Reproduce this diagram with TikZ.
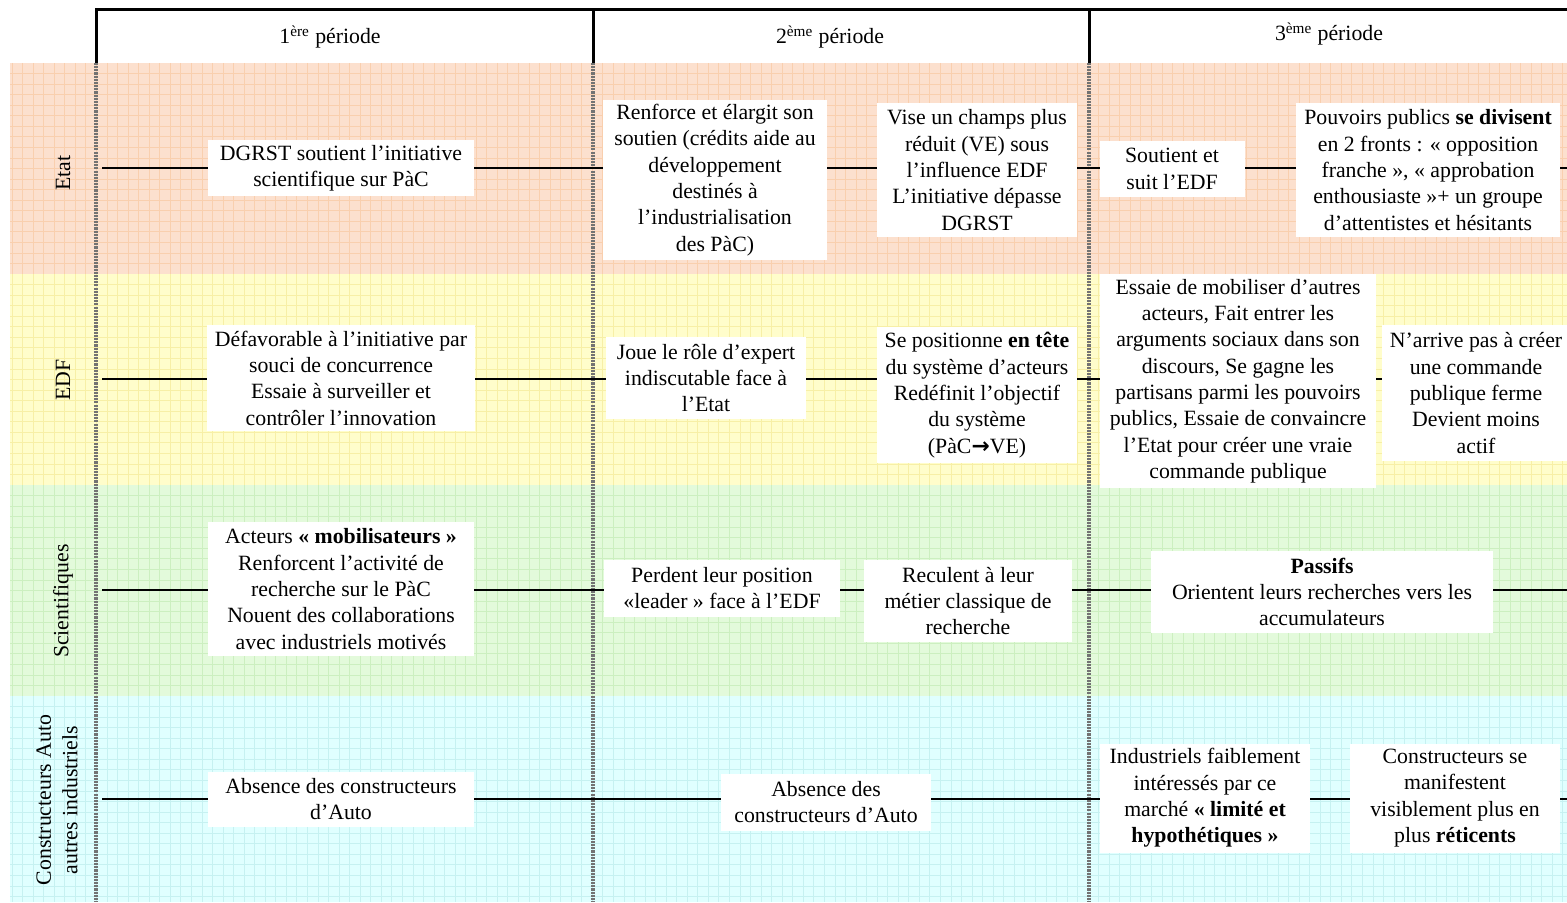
\documentclass[tikz,border=0pt]{standalone}
\usepackage{fontspec}
\setmainfont{Liberation Serif}
\newfontfamily\arrowfont{DejaVu Sans}
\usepackage{tikz}
\usetikzlibrary{calc}
\definecolor{etatbg}{RGB}{252,224,206}
\definecolor{etatgrid}{RGB}{249,207,174}
\definecolor{edfbg}{RGB}{255,253,203}
\definecolor{edfgrid}{RGB}{247,239,166}
\definecolor{scibg}{RGB}{227,250,219}
\definecolor{scigrid}{RGB}{204,239,192}
\definecolor{autobg}{RGB}{224,255,255}
\definecolor{autogrid}{RGB}{198,241,241}
\tikzstyle{actor} = [rectangle, fill=white, align=center, inner xsep=0.16cm, inner ysep=0.05cm, font=\fontsize{12.4}{15}\selectfont]
\tikzstyle{rowlabel} = [rotate=90, align=center, font=\fontsize{12.4}{15}\selectfont]
\tikzstyle{period} = [font=\fontsize{12.4}{15}\selectfont]
\tikzstyle{rowline} = [line width=0.04cm, black]
\tikzstyle{divider} = [line width=0.075cm, black!55, dash pattern=on 1.2pt off 0.6pt]
\tikzstyle{frameline} = [line width=0.06cm, black]
\tikzstyle{gridline} = [line width=0.016cm]

\begin{document}
\begin{tikzpicture}[x=0.02cm, y=-0.02cm]
\useasboundingbox (0,0) rectangle (1567,902);
%----------------------------------------------------------------------------
% Coloured bands with their grid
\foreach \ytop/\ybot/\bg/\gr in {63/274/etatbg/etatgrid, 274/485/edfbg/edfgrid, 485/696/scibg/scigrid, 696/902/autobg/autogrid}{
  \fill[fill=\bg] (10,\ytop) rectangle (1567,\ybot);
  \foreach \gx in {12,22.55,...,1567}
    \draw[gridline, draw=\gr] (\gx,\ytop) -- (\gx,\ybot);
  \foreach \k in {1,...,19}
    \draw[gridline, draw=\gr] (10,{\ytop+\k*10.55}) -- (1567,{\ytop+\k*10.55});
}

%----------------------------------------------------------------------------
% Header frame
\coordinate (top0) at (96,10);
\coordinate (top1) at (593,10);
\coordinate (top2) at (1089,10);
\coordinate (topR) at (1567,10);
\coordinate (bot0) at (96,902);
\coordinate (bot1) at (593,902);
\coordinate (bot2) at (1089,902);
\draw [frameline] (topR) -- (top0) -- (top0 |- 0,63);
\draw [frameline] (top1) -- (top1 |- 0,63);
\draw [frameline] (top2) -- (top2 |- 0,63);
\draw [divider] (top0 |- 0,63) -- (bot0);
\draw [divider] (top1 |- 0,63) -- (bot1);
\draw [divider] (top2 |- 0,63) -- (bot2);

\node (per1) [period] at (330,37) {1\textsuperscript{ère} période};
\node (per2) [period] at (830,37) {2\textsuperscript{ème} période};
\node (per3) [period] at (1329,34) {3\textsuperscript{ème} période};

% row labels
\node (labEtat) [rowlabel] at (63,173) {Etat};
\node (labEdf) [rowlabel] at (63,380) {EDF};
\node (labSci) [rowlabel] at (63,601) {Scientifiques};
\node (labAuto) [rowlabel] at (57,800) {Constructeurs Auto\\autres industriels};

%----------------------------------------------------------------------------
% Row lines
\coordinate (etatL) at (102,168);
\coordinate (etatR) at (1567,168);
\coordinate (edfL) at (102,379);
\coordinate (edfR) at (1567,379);
\coordinate (sciL) at (102,590);
\coordinate (sciR) at (1567,590);
\coordinate (autoL) at (102,799);
\coordinate (autoR) at (1567,799);
\draw [rowline] (etatL) -- (etatR);
\draw [rowline] (edfL) -- (edfR);
\draw [rowline] (sciL) -- (sciR);
\draw [rowline] (autoL) -- (autoR);

%----------------------------------------------------------------------------
% Etat
\node (etat1) [actor, minimum width=5.34cm, minimum height=1.12cm] at (341,168) {DGRST soutient l’initiative\\scientifique sur PàC};
\node (etat2) [actor, minimum width=4.5cm, minimum height=3.22cm] at (715,180) {Renforce et élargit son\\soutien (crédits aide au\\développement\\destinés à\\l’industrialisation\\des PàC)};
\node (etat3) [actor, minimum width=4cm, minimum height=2.7cm] at (977,170) {Vise un champs plus\\réduit (VE) sous\\l’influence EDF\\L’initiative dépasse\\DGRST};
\node (etat4) [actor, minimum width=2.9cm, minimum height=1.12cm] at (1172,169) {Soutient et\\suit l’EDF};
\node (etat5) [actor, minimum width=5.26cm, minimum height=2.7cm] at (1428,170) {Pouvoirs publics \textbf{se divisent}\\en 2 fronts : « opposition\\franche », « approbation\\enthousiaste »+ un groupe\\d’attentistes et hésitants};

% EDF
\node (edf1) [actor, minimum width=5.34cm, minimum height=2.14cm] at (341,378) {Défavorable à l’initiative par\\souci de concurrence\\Essaie à surveiller et\\contrôler l’innovation};
\node (edf2) [actor, minimum width=4.02cm, minimum height=1.64cm] at (706,378) {Joue le rôle d’expert\\indiscutable face à\\l’Etat};
\node (edf3) [actor, minimum width=4.02cm, minimum height=2.72cm] at (977,395) {Se positionne \textbf{en tête}\\du système d’acteurs\\Redéfinit l’objectif\\du système\\(PàC{\arrowfont\bfseries →}VE)};
\node (edf4) [actor, minimum width=5.52cm, minimum height=4.3cm] at (1238,381) {Essaie de mobiliser d’autres\\acteurs, Fait entrer les\\arguments sociaux dans son\\discours, Se gagne les\\partisans parmi les pouvoirs\\publics, Essaie de convaincre\\l’Etat pour créer une vraie\\commande publique};
\node (edf5) [actor, minimum width=3.56cm, minimum height=2.72cm] at (1476,393) {N’arrive pas à créer\\une commande\\publique ferme\\Devient moins\\actif};

% Scientifiques
\node (sci1) [actor, minimum width=5.32cm, minimum height=2.7cm] at (341,589) {Acteurs \textbf{« mobilisateurs »}\\Renforcent l’activité de\\recherche sur le PàC\\Nouent des collaborations\\avec industriels motivés};
\node (sci2) [actor, minimum width=4.74cm, minimum height=1.14cm] at (722,588) {Perdent leur position\\«leader » face à l’EDF};
\node (sci3) [actor, minimum width=4.18cm, minimum height=1.64cm] at (968,601) {Reculent à leur\\métier classique de\\recherche};
\node (sci4) [actor, minimum width=6.84cm, minimum height=1.64cm] at (1322,592) {\textbf{Passifs}\\Orientent leurs recherches vers les\\accumulateurs};

% Constructeurs
\node (auto1) [actor, minimum width=5.32cm, minimum height=1.1cm] at (341,799) {Absence des constructeurs\\d’Auto};
\node (auto2) [actor, minimum width=4.22cm, minimum height=1.14cm] at (826,802) {Absence des\\constructeurs d’Auto};
\node (auto3) [actor, minimum width=4.2cm, minimum height=2.18cm] at (1205,798) {Industriels faiblement\\intéressés par ce\\marché \textbf{« limité et}\\\textbf{hypothétiques »}};
\node (auto4) [actor, minimum width=4.2cm, minimum height=2.18cm] at (1455,798) {Constructeurs se\\manifestent\\visiblement plus en\\plus \textbf{réticents}};

\end{tikzpicture}
\end{document}
